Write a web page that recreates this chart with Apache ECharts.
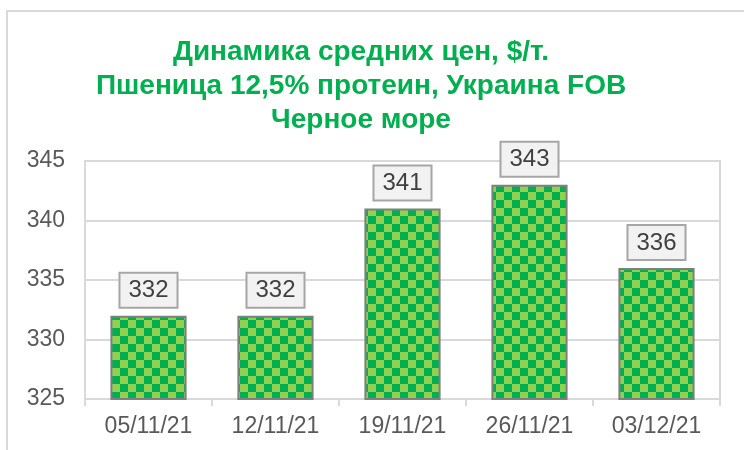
<!DOCTYPE html>
<html>
<head>
<meta charset="utf-8">
<script src="https://cdn.jsdelivr.net/npm/echarts@6/dist/echarts.min.js"></script>
<style>
  html, body { margin: 0; padding: 0; background: #fff; }
  #plot1 { width: 744px; height: 450px; }
</style>
</head>
<body>
<div id="plot1"></div>
<script>
// data
var dates = ['05/11/21', '12/11/21', '19/11/21', '26/11/21', '03/12/21'];
var prices = [332, 332, 341, 343, 336];
var titleLines = ['Динамика средних цен, $/т.', 'Пшеница 12,5% протеин, Украина FOB', 'Черное море'];

// checkerboard fill for the bars
function checker(cell) {
  var c = document.createElement('canvas');
  c.width = cell * 2; c.height = cell * 2;
  var ctx = c.getContext('2d');
  ctx.fillStyle = '#92d050';
  ctx.fillRect(0, 0, cell * 2, cell * 2);
  ctx.fillStyle = '#00b050';
  ctx.fillRect(cell, 0, cell, cell);
  ctx.fillRect(0, cell, cell, cell);
  return c;
}

var myChart = echarts.init(document.getElementById('plot1'));
var option = {
  animation: false,
  textStyle: { fontFamily: 'Liberation Sans, Arial, sans-serif' },
  graphic: [{
    type: 'rect',
    shape: { x: 7, y: 11, width: 800, height: 500 },
    style: { fill: 'none', stroke: '#d9d9d9', lineWidth: 2 },
    silent: true
  }],
  title: {
    text: titleLines.join('\n'),
    left: 361,
    textAlign: 'center',
    top: 35,
    textStyle: {
      color: '#00b050',
      fontSize: 28,
      fontWeight: 'bold',
      lineHeight: 34,
      fontFamily: 'Liberation Sans, Arial, sans-serif'
    },
    padding: 0
  },
  grid: {
    left: 85, right: 24, top: 161, bottom: 51,
    show: true, borderColor: '#d9d9d9', borderWidth: 2
  },
  xAxis: {
    type: 'category',
    data: dates,
    axisLine: { lineStyle: { color: '#d9d9d9', width: 2 } },
    axisTick: { show: true, length: 7, lineStyle: { color: '#d9d9d9', width: 2 } },
    axisLabel: { color: '#595959', fontSize: 23, margin: 16 }
  },
  yAxis: {
    type: 'value',
    min: 325, max: 345, interval: 5,
    axisLine: { show: true, lineStyle: { color: '#d9d9d9', width: 2 } },
    axisTick: { show: false },
    splitLine: { lineStyle: { color: '#d9d9d9', width: 2 } },
    axisLabel: { color: '#595959', fontSize: 23, margin: 20 }
  },
  series: [{
    type: 'bar',
    data: prices,
    barWidth: '60%',
    itemStyle: {
      color: { image: checker(8), repeat: 'repeat' },
      borderColor: '#7f7f7f',
      borderWidth: 2
    },
    label: {
      show: true,
      position: 'top',
      distance: 9,
      color: '#404040',
      fontSize: 24,
      backgroundColor: '#f2f2f2',
      borderColor: '#a6a6a6',
      borderWidth: 2,
      padding: [5, 8, 4, 8]
    }
  }]
};
myChart.setOption(option);
</script>
</body>
</html>
